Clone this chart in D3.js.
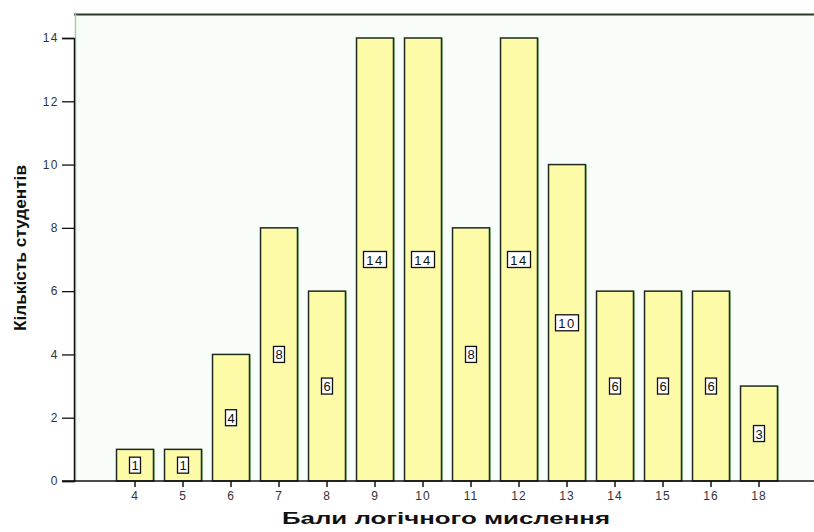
<!DOCTYPE html>
<html><head><meta charset="utf-8">
<script src="https://cdn.jsdelivr.net/npm/d3@7"></script>
<style>body{margin:0;background:#fff;overflow:hidden}svg{display:block}</style>
</head><body>
<svg id="c" width="814" height="532"></svg>
<script>
const categories = ["4","5","6","7","8","9","10","11","12","13","14","15","16","18"];
const counts = [1,1,4,8,6,14,14,8,14,10,6,6,6,3];
const yTicks = [0,2,4,6,8,10,12,14];
const xTitle = "Бали логічного мислення";
const yTitle = "Кількість студентів";

const svg = d3.select("#c");
const pLeft = 74, pRight = 814, pTop = 14, pBottom = 481;

const x = d3.scaleBand().domain(categories).range([111, 783]).paddingInner(0.23).paddingOuter(0.115);
const y = d3.scaleLinear().domain([0, 14]).range([pBottom, 38]);

// plot background
svg.append("rect").attr("x", pLeft).attr("y", pTop).attr("width", pRight-pLeft).attr("height", pBottom-pTop).attr("fill", "#f9fdf9");
// top frame
svg.append("line").attr("x1", pLeft).attr("x2", pRight).attr("y1", pTop+0.5).attr("y2", pTop+0.5).attr("stroke", "#2b3a2b").attr("stroke-width", 2);
// left green highlight
svg.append("line").attr("x1", pLeft+1.5).attr("x2", pLeft+1.5).attr("y1", pTop).attr("y2", pBottom).attr("stroke", "#9ed69e").attr("stroke-width", 1.5);

// bars
const g = svg.append("g");
categories.forEach((c, i) => {
  const bx = x(c), bw = x.bandwidth(), by = y(counts[i]);
  g.append("rect").attr("x", bx+1.5).attr("y", by).attr("width", bw).attr("height", pBottom-by).attr("fill", "#9fcf9f");
  g.append("rect").attr("x", bx).attr("y", by).attr("width", bw).attr("height", pBottom-by)
    .attr("fill", "#fefba8").attr("stroke", "#1e2a1e").attr("stroke-width", 1.5);
});

// labels
categories.forEach((c, i) => {
  const cx = x(c) + x.bandwidth()/2, cy = y(counts[i]/2);
  const t = String(counts[i]);
  const w = t.length === 1 ? 11 : 23;
  g.append("rect").attr("x", cx - w/2).attr("y", cy - 8).attr("width", w).attr("height", 16)
    .attr("fill", "#fff").attr("stroke", "#111").attr("stroke-width", 1.3);
  g.append("text").attr("x", cx).attr("y", cy + 5).attr("text-anchor", "middle")
    .attr("font-family", "Liberation Sans, Arial, sans-serif").attr("font-size", 13)
    .attr("letter-spacing", t.length > 1 ? 1.5 : 0)
    .attr("fill", "#111").text(t);
});

// y axis
const ya = svg.append("g").attr("transform", `translate(${pLeft},0)`)
  .call(d3.axisLeft(y).tickValues(yTicks).tickSize(12).tickPadding(3));
ya.select(".domain").attr("stroke", "#111").attr("stroke-width", 1.5);
ya.selectAll(".tick line").attr("stroke", "#111").attr("stroke-width", 1.3);
ya.selectAll(".tick text").attr("font-family", "Liberation Sans, Arial, sans-serif").attr("font-size", 12).attr("letter-spacing", 1.5).attr("fill", "#333");

// x axis
const xa = svg.append("g").attr("transform", `translate(0,${pBottom})`)
  .call(d3.axisBottom(x).tickSize(6).tickPadding(4));
xa.select(".domain").remove();
svg.append("line").attr("x1", pLeft-12).attr("x2", pRight).attr("y1", pBottom).attr("y2", pBottom).attr("stroke", "#111").attr("stroke-width", 1.5);
xa.selectAll(".tick line").attr("stroke", "#111").attr("stroke-width", 1.5);
xa.selectAll(".tick text").attr("font-family", "Liberation Sans, Arial, sans-serif").attr("font-size", 12).attr("letter-spacing", 1).attr("fill", "#333");

// titles
svg.append("text").attr("x", 446).attr("y", 524).attr("text-anchor", "middle")
  .attr("font-family", "Liberation Sans, Arial, sans-serif").attr("font-weight", "bold").attr("font-size", 16)
  .attr("textLength", 328).attr("lengthAdjust", "spacingAndGlyphs")
  .attr("fill", "#111").text(xTitle);
svg.append("text").attr("transform", "translate(26,248) rotate(-90)").attr("text-anchor", "middle")
  .attr("font-family", "Liberation Sans, Arial, sans-serif").attr("font-weight", "bold").attr("font-size", 17)
  .attr("textLength", 166).attr("lengthAdjust", "spacingAndGlyphs")
  .attr("fill", "#111").text(yTitle);
</script>
</body></html>
